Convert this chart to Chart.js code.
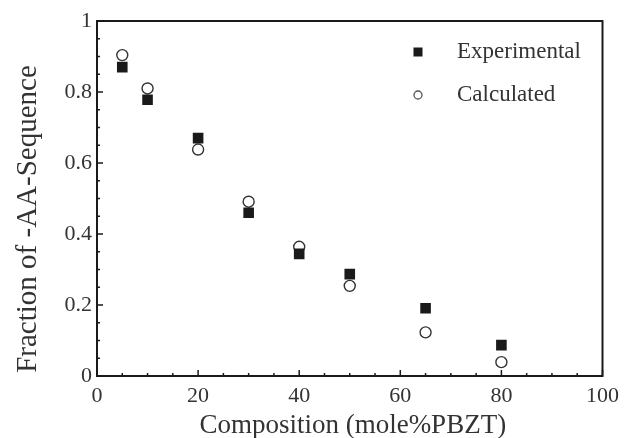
<!DOCTYPE html>
<html>
<head>
<meta charset="utf-8">
<script src="https://cdn.jsdelivr.net/npm/chart.js@4"></script>
<style>
    html, body { margin: 0; padding: 0; background: #fff; }
    #wrap { width: 626px; height: 438px; }
</style>
</head>
<body>
<div id="wrap"><canvas id="chart" width="626" height="438"></canvas></div>
<script>
// Data
const composition = [5, 10, 20, 30, 40, 50, 65, 80];
const experimental = [0.870, 0.778, 0.670, 0.460, 0.344, 0.287, 0.191, 0.087];
const calculated = [0.904, 0.810, 0.638, 0.491, 0.364, 0.254, 0.123, 0.039];
const xTickLabels = ['0', '20', '40', '60', '80', '100'];
const yTickLabels = ['0', '0.2', '0.4', '0.6', '0.8', '1'];
const xTitle = 'Composition (mole%PBZT)';
const yTitle = 'Fraction of -AA-Sequence';

const INK = '#1a1a1a';
const TEXT = '#333';
const SERIF = '"Liberation Serif", "Times New Roman", serif';

function toPoints(xs, ys) {
    return xs.map((x, i) => ({ x: x, y: ys[i] }));
}

// Inward ticks, frame, axis titles and the legend box inside the plot
const framePlugin = {
    id: 'frame',
    afterDraw(chart) {
        const { ctx, chartArea: a, scales } = chart;
        const xs = scales.x, ys = scales.y;
        ctx.save();
        ctx.strokeStyle = INK;
        ctx.lineWidth = 2;
        ctx.strokeRect(a.left, a.top, a.right - a.left, a.bottom - a.top);

        ctx.lineWidth = 1.5;
        ctx.beginPath();
        for (let v = 0; v <= 100; v += 5) {
            const px = xs.getPixelForValue(v);
            const len = v % 20 === 0 ? 6 : 3;
            ctx.moveTo(px, a.bottom);
            ctx.lineTo(px, a.bottom - len);
        }
        for (let i = 0; i <= 20; i++) {
            const v = i * 0.05;
            const py = ys.getPixelForValue(v);
            const len = i % 4 === 0 ? 6 : 3;
            ctx.moveTo(a.left, py);
            ctx.lineTo(a.left + len, py);
        }
        ctx.stroke();

        // axis titles
        ctx.fillStyle = TEXT;
        ctx.font = '27px ' + SERIF;
        ctx.textAlign = 'center';
        ctx.textBaseline = 'alphabetic';
        ctx.fillText(xTitle, (a.left + a.right) / 2 + 3, 433);

        ctx.save();
        ctx.translate(36, 219);
        ctx.rotate(-Math.PI / 2);
        ctx.font = '29px ' + SERIF;
        ctx.fillText(yTitle, 0, 0);
        ctx.restore();

        // legend
        const items = chart.data.datasets;
        ctx.font = '23px ' + SERIF;
        ctx.textAlign = 'left';
        ctx.textBaseline = 'middle';
        items.forEach((ds, i) => {
            const cy = 52 + i * 43;
            const cx = 418;
            ctx.lineWidth = 1.3;
            ctx.strokeStyle = INK;
            if (ds.pointStyle === 'rect') {
                ctx.fillStyle = INK;
                ctx.fillRect(cx - 4.5, cy - 4.5, 9, 9);
            } else {
                ctx.strokeStyle = '#555';
                ctx.beginPath();
                ctx.arc(cx, cy, 4, 0, Math.PI * 2);
                ctx.stroke();
            }
            ctx.fillStyle = TEXT;
            ctx.fillText(ds.label, 457, cy);
        });
        ctx.restore();
    }
};

new Chart(document.getElementById('chart'), {
    type: 'scatter',
    data: {
        datasets: [
            {
                label: 'Experimental',
                data: toPoints(composition, experimental),
                pointStyle: 'rect',
                pointRadius: 7.5,
                backgroundColor: INK,
                borderColor: INK,
                borderWidth: 0
            },
            {
                label: 'Calculated',
                data: toPoints(composition, calculated),
                pointStyle: 'circle',
                pointRadius: 5.5,
                backgroundColor: '#fff',
                borderColor: '#333',
                borderWidth: 1.4
            }
        ]
    },
    options: {
        responsive: false,
        animation: false,
        devicePixelRatio: 1,
        layout: { padding: { top: 21, right: 20, left: 0, bottom: 0 } },
        plugins: {
            legend: { display: false },
            tooltip: { enabled: false }
        },
        scales: {
            x: {
                type: 'linear',
                min: 0,
                max: 100,
                afterFit(scale) { scale.height = 62; },
                afterBuildTicks(scale) {
                    scale.ticks = xTickLabels.map(t => ({ value: Number(t) }));
                },
                grid: { display: false, drawTicks: false },
                border: { display: false },
                ticks: {
                    padding: 7,
                    color: TEXT,
                    font: { family: SERIF, size: 22 },
                    maxRotation: 0,
                    callback: (v) => xTickLabels[xTickLabels.indexOf(String(v))]
                }
            },
            y: {
                type: 'linear',
                min: 0,
                max: 1,
                afterFit(scale) { scale.width = 97; },
                afterBuildTicks(scale) {
                    scale.ticks = yTickLabels.map(t => ({ value: Number(t) }));
                },
                grid: { display: false, drawTicks: false },
                border: { display: false },
                ticks: {
                    padding: 5,
                    color: TEXT,
                    font: { family: SERIF, size: 22 },
                    callback: (v) => yTickLabels[yTickLabels.indexOf(String(v))]
                }
            }
        }
    },
    plugins: [framePlugin]
});
</script>
</body>
</html>
